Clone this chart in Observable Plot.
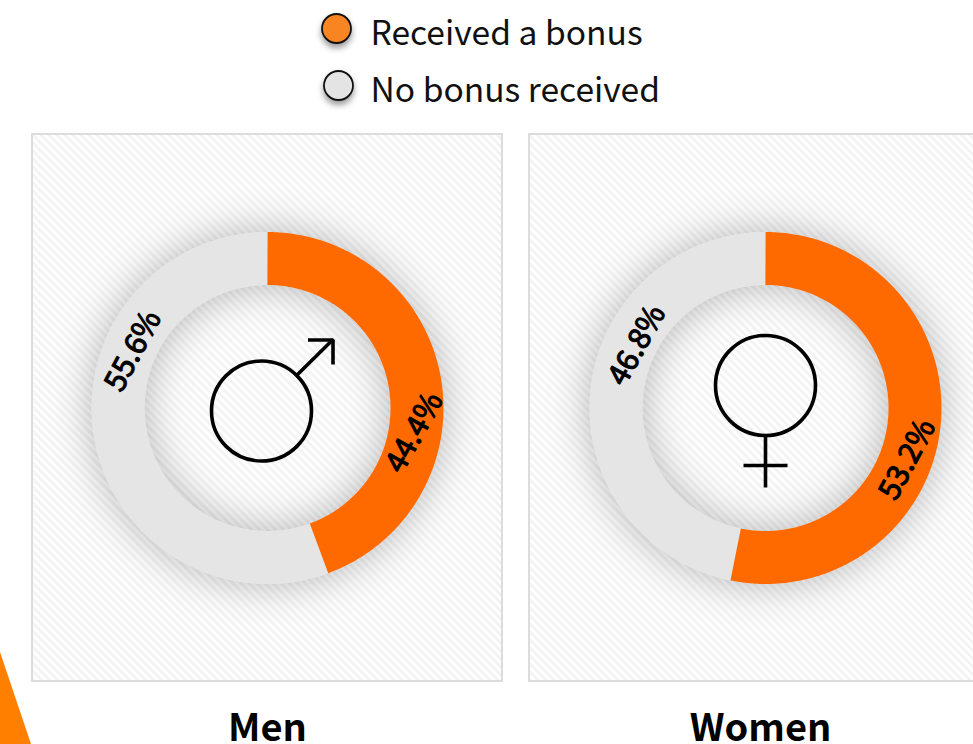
<!DOCTYPE html>
<html>
<head>
<meta charset="utf-8">
<script src="https://cdn.jsdelivr.net/npm/d3@7"></script>
<script src="https://cdn.jsdelivr.net/npm/@observablehq/plot@0.6"></script>
<style>
  html, body { margin: 0; padding: 0; background: #fff; overflow: hidden; }
  svg { display: block; }
</style>
</head>
<body>
<script>
// Data
const groups = ["Men", "Women"];
const categories = ["Received a bonus", "No bonus received"];
const receivedBonus = [44.4, 53.2];
const noBonus = [55.6, 46.8];

// Layout (in pixel-sized scale units)
const W = 973, H = 744;
const panelX1 = [32, 529], panelX2 = [502, 999], panelY1 = 134, panelY2 = 681;
const centerX = [267, 765], centerY = 407.5, ringMid = 149.5, ringWidth = 53;
const titleX = [267, 760], titleY = 740;
const receivedLabelAngle = [99.5, 110], noLabelAngle = [293, 296];
const receivedLabelRadius = [149, 151], noLabelRadius = [146, 143];
const receivedLabelTurn = [-61, -62], noLabelTurn = [-62, -61];
const legendX = [336, 338], legendY = [28, 85], legendTextX = 370, legendTextY = [34, 91];
const colors = {received: "#ff6a00", none: "#e5e5e5", legendOrange: "#f88522", legendGrey: "#e4e4e4", corner: "#ff7f00"};

const fontFamily = "'Noto Sans CJK SC', 'Noto Sans', sans-serif";

// Arc of a ring from fraction a to fraction b of the turn, clockwise from the top
function arc(cx, a, b) {
  const n = Math.ceil((b - a) * 720);
  return d3.range(n + 1).map(i => {
    const t = (a + (b - a) * i / n) * 2 * Math.PI;
    return {x: cx + ringMid * Math.sin(t), y: centerY - ringMid * Math.cos(t)};
  });
}
const polar = (cx, deg, r) => ({
  x: cx + r * Math.sin(deg * Math.PI / 180),
  y: centerY - r * Math.cos(deg * Math.PI / 180)
});

const panels = groups.map((g, i) => ({g, x1: panelX1[i], x2: panelX2[i], y1: panelY1, y2: panelY2}));
const titles = groups.map((g, i) => ({g, x: titleX[i], y: titleY}));
const sliceLabels = groups.flatMap((g, i) => [
  {text: receivedBonus[i].toFixed(1) + "%", rotate: receivedLabelTurn[i], ...polar(centerX[i], receivedLabelAngle[i], receivedLabelRadius[i])},
  {text: noBonus[i].toFixed(1) + "%", rotate: noLabelTurn[i], ...polar(centerX[i], noLabelAngle[i], noLabelRadius[i])}
]);
const legend = categories.map((c, i) => ({c, x: legendX[i], y: legendY[i], ty: legendTextY[i], fill: i ? colors.legendGrey : colors.legendOrange}));

// Gender symbols
const symbolCircles = [{x: 261, y: 410.5}, {x: 765, y: 385}];
const symbolStrokes = [
  [{x: 297, y: 374}, {x: 332, y: 339.5}],
  [{x: 307.5, y: 339.5}, {x: 332.5, y: 339.5}, {x: 332.5, y: 364}],
  [{x: 765, y: 435}, {x: 765, y: 487}],
  [{x: 743, y: 465}, {x: 787, y: 465}]
];
const cornerEdge = [{x: 0, y: 652}, {x: 31, y: 744}];

const hatch = () => {
  const s = d3.create("svg:defs");
  const p = s.append("pattern").attr("id", "hatch").attr("patternUnits", "userSpaceOnUse")
    .attr("width", 5.66).attr("height", 5.66).attr("patternTransform", "rotate(-45)");
  p.append("rect").attr("width", 5.66).attr("height", 5.66).attr("fill", "#ffffff");
  p.append("rect").attr("width", 2.83).attr("height", 5.66).attr("fill", "#f3f3f3");
  return s.node();
};

const ringMarks = groups.flatMap((g, i) => {
  const cx = centerX[i], split = receivedBonus[i] / 100;
  const line = (pts, stroke, extra = {}) => Plot.line(pts, {
    x: "x", y: "y", stroke, strokeWidth: ringWidth, strokeLinecap: "butt", strokeLinejoin: "round", ...extra
  });
  return [
    line(arc(cx, 0, 1), colors.none, {imageFilter: "drop-shadow(0 0 20px rgba(0,0,0,0.28))"}),
    line(arc(cx, split, 1), colors.none),
    line(arc(cx, 0, split), colors.received)
  ];
});

const chart = Plot.plot({
  width: W, height: H, margin: 0,
  x: {domain: [0, W], range: [0, W], axis: null},
  y: {domain: [0, H], range: [0, H], axis: null},
  style: {background: "#fff", fontFamily},
  marks: [
    hatch,
    Plot.areaY(cornerEdge, {x: "x", y1: H, y2: "y", fill: colors.corner}),
    Plot.rect(panels, {x1: "x1", x2: "x2", y1: "y1", y2: "y2", fill: "url(#hatch)", stroke: "#dcdcdc", strokeWidth: 2}),
    ...ringMarks,
    Plot.dot(symbolCircles, {x: "x", y: "y", r: 50, stroke: "#000", strokeWidth: 3.6, fill: "none"}),
    ...symbolStrokes.map(s => Plot.line(s, {x: "x", y: "y", stroke: "#000", strokeWidth: 3.6, strokeLinecap: "butt", strokeLinejoin: "miter"})),
    Plot.text(sliceLabels, {x: "x", y: "y", text: "text", rotate: "rotate", fontSize: 30, fontWeight: 400, fill: "#000", stroke: "#000", strokeWidth: 1.1, textAnchor: "middle", lineAnchor: "middle", fontFamily}),
    Plot.dot(legend, {x: "x", y: "y", r: 14.5, fill: "fill", stroke: "#111", strokeWidth: 1.8, imageFilter: "drop-shadow(0 4px 3px rgba(0,0,0,0.4))"}),
    Plot.text(legend, {x: legendTextX, y: "ty", text: "c", fontSize: 33.6, fill: "#111", textAnchor: "start", lineAnchor: "middle", fontFamily}),
    Plot.text(titles, {x: "x", y: "y", text: "g", fontSize: 38, fontWeight: 700, fill: "#000", textAnchor: "middle", lineAnchor: "bottom", fontFamily})
  ]
});
document.body.appendChild(chart);
</script>
</body>
</html>
